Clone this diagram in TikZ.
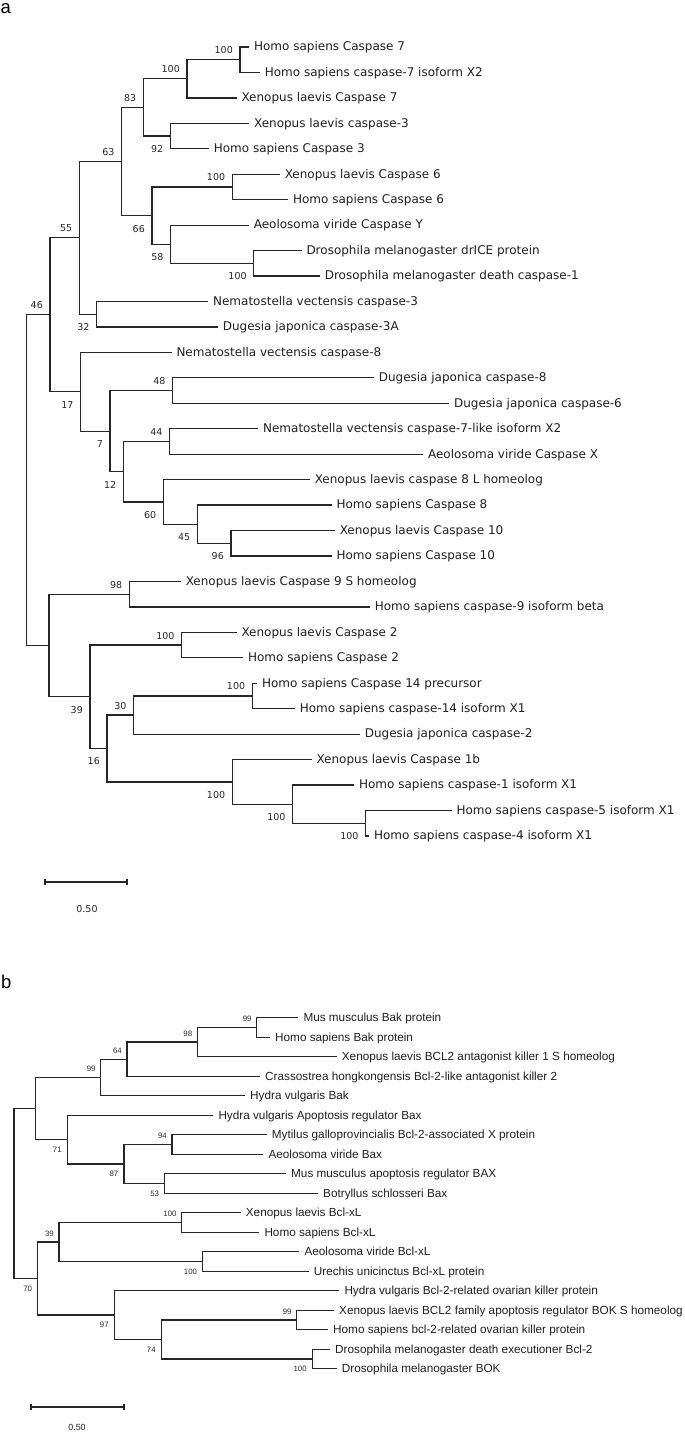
\documentclass[tikz,border=0pt]{standalone}
\usepackage{fontspec}
\newfontfamily\dvs{DejaVu Sans}
\newfontfamily\lis{Liberation Sans}
\begin{document}
\begin{tikzpicture}[x=1pt,y=-1pt,
  br/.style={draw=black!85,line width=1.25pt},
  la/.style={anchor=base west,inner sep=0pt,xshift=4.6pt,yshift=-3.8pt,font=\dvs\fontsize{12}{14}\selectfont,text=black!88},
  lb/.style={anchor=base west,inner sep=0pt,xshift=5pt,yshift=-4.2pt,font=\lis\fontsize{11.75}{14}\selectfont,text=black!88},
  ua/.style={anchor=east,inner sep=0pt,xshift=-7pt,yshift=9.5pt,font=\dvs\fontsize{9.5}{11}\selectfont,text=black!85},
  da/.style={anchor=east,inner sep=0pt,xshift=-7pt,yshift=-13pt,font=\dvs\fontsize{9.5}{11}\selectfont,text=black!85},
  ub/.style={anchor=east,inner sep=0pt,xshift=-5pt,yshift=8.5pt,font=\lis\fontsize{7.8}{9}\selectfont,text=black!85},
  db/.style={anchor=east,inner sep=0pt,xshift=-5.5pt,yshift=-10pt,font=\lis\fontsize{7.8}{9}\selectfont,text=black!85},
  panel/.style={anchor=base west,inner sep=0pt,font=\lis\fontsize{18.5}{20}\selectfont}]
\useasboundingbox (0,0) rectangle (685,1432);

%% ================= PANEL A =================
\node[panel] (pa) at (0.5,13.5) {a};
% leaf tips
\coordinate (a1) at (249.3,47);
\coordinate (a2) at (260,72.45);
\coordinate (a3) at (236.7,97.9);
\coordinate (a4) at (249.3,123.35);
\coordinate (a5) at (209,148.8);
\coordinate (a6) at (280,174.25);
\coordinate (a7) at (288.3,199.7);
\coordinate (a8) at (249,225.15);
\coordinate (a9) at (301.7,250.6);
\coordinate (a10) at (320,276.05);
\coordinate (a11) at (208.3,301.5);
\coordinate (a12) at (218,326.95);
\coordinate (a13) at (171.7,352.4);
\coordinate (a14) at (374,377.85);
\coordinate (a15) at (449.3,403.3);
\coordinate (a16) at (258.3,428.75);
\coordinate (a17) at (423.3,454.2);
\coordinate (a18) at (310,479.65);
\coordinate (a19) at (331.7,505.1);
\coordinate (a20) at (335,530.55);
\coordinate (a21) at (331.7,556);
\coordinate (a22) at (181,581.45);
\coordinate (a23) at (370,606.9);
\coordinate (a24) at (236.7,632.35);
\coordinate (a25) at (243.3,657.8);
\coordinate (a26) at (257.3,683.25);
\coordinate (a27) at (295,708.7);
\coordinate (a28) at (360,734.15);
\coordinate (a29) at (311.7,759.6);
\coordinate (a30) at (354.3,785.05);
\coordinate (a31) at (451.7,810.5);
\coordinate (a32) at (369.3,835.95);
% internal nodes
\coordinate (n7a) at (240,59.73);
\coordinate (n7b) at (187,78.81);
\coordinate (n92) at (170.3,136.08);
\coordinate (n83) at (143.3,107.44);
\coordinate (n6) at (232.3,186.98);
\coordinate (ndr) at (253.8,263.33);
\coordinate (n58) at (170.7,244.24);
\coordinate (n66) at (152,215.61);
\coordinate (n63) at (121.7,161.52);
\coordinate (n32) at (96.7,314.23);
\coordinate (n55) at (79.3,237.87);
\coordinate (n48) at (172.7,390.58);
\coordinate (n44) at (169.7,441.48);
\coordinate (n96) at (231,543.28);
\coordinate (n45) at (197.3,524.19);
\coordinate (n60) at (163.3,501.92);
\coordinate (n12) at (123.3,471.7);
\coordinate (n7) at (110,431.14);
\coordinate (n17) at (80.7,391.77);
\coordinate (n46) at (50,314.82);
\coordinate (n98) at (129.3,594.18);
\coordinate (nc2) at (181.7,645.08);
\coordinate (nc14) at (252.3,695.98);
\coordinate (n30) at (133.7,715.06);
\coordinate (nc45) at (365.7,823.23);
\coordinate (nc1) at (292.7,804.14);
\coordinate (nc1b) at (232.3,781.87);
\coordinate (n16) at (107,748.47);
\coordinate (n39) at (90,696.78);
\coordinate (nu) at (49,645.48);
\coordinate (ra) at (26.7,480.15);
% branches
\foreach \p/\c in {n7a/a1,n7a/a2,n7b/n7a,n7b/a3,n92/a4,n92/a5,n83/n7b,n83/n92,
  n6/a6,n6/a7,ndr/a9,ndr/a10,n58/a8,n58/ndr,n66/n6,n66/n58,n63/n83,n63/n66,
  n32/a11,n32/a12,n55/n63,n55/n32,n48/a14,n48/a15,n44/a16,n44/a17,
  n96/a20,n96/a21,n45/a19,n45/n96,n60/a18,n60/n45,n12/n44,n12/n60,
  n7/n48,n7/n12,n17/a13,n17/n7,n46/n55,n46/n17,
  n98/a22,n98/a23,nc2/a24,nc2/a25,nc14/a26,nc14/a27,n30/nc14,n30/a28,
  nc45/a31,nc45/a32,nc1/a30,nc1/nc45,nc1b/a29,nc1b/nc1,n16/n30,n16/nc1b,
  n39/nc2,n39/n16,nu/n98,nu/n39,ra/n46,ra/nu}
  \draw[br] (\p) |- (\c);
% leaf labels
\node[la] (ta1) at (a1) {Homo sapiens Caspase 7};
\node[la] (ta2) at (a2) {Homo sapiens caspase-7 isoform X2};
\node[la] (ta3) at (a3) {Xenopus laevis Caspase 7};
\node[la] (ta4) at (a4) {Xenopus laevis caspase-3};
\node[la] (ta5) at (a5) {Homo sapiens Caspase 3};
\node[la] (ta6) at (a6) {Xenopus laevis Caspase 6};
\node[la] (ta7) at (a7) {Homo sapiens Caspase 6};
\node[la] (ta8) at (a8) {Aeolosoma viride Caspase Y};
\node[la] (ta9) at (a9) {Drosophila melanogaster drICE protein};
\node[la] (ta10) at (a10) {Drosophila melanogaster death caspase-1};
\node[la] (ta11) at (a11) {Nematostella vectensis caspase-3};
\node[la] (ta12) at (a12) {Dugesia japonica caspase-3A};
\node[la] (ta13) at (a13) {Nematostella vectensis caspase-8};
\node[la] (ta14) at (a14) {Dugesia japonica caspase-8};
\node[la] (ta15) at (a15) {Dugesia japonica caspase-6};
\node[la] (ta16) at (a16) {Nematostella vectensis caspase-7-like isoform X2};
\node[la] (ta17) at (a17) {Aeolosoma viride Caspase X};
\node[la] (ta18) at (a18) {Xenopus laevis caspase 8 L homeolog};
\node[la] (ta19) at (a19) {Homo sapiens Caspase 8};
\node[la] (ta20) at (a20) {Xenopus laevis Caspase 10};
\node[la] (ta21) at (a21) {Homo sapiens Caspase 10};
\node[la] (ta22) at (a22) {Xenopus laevis Caspase 9 S homeolog};
\node[la] (ta23) at (a23) {Homo sapiens caspase-9 isoform beta};
\node[la] (ta24) at (a24) {Xenopus laevis Caspase 2};
\node[la] (ta25) at (a25) {Homo sapiens Caspase 2};
\node[la] (ta26) at (a26) {Homo sapiens Caspase 14 precursor};
\node[la] (ta27) at (a27) {Homo sapiens caspase-14 isoform X1};
\node[la] (ta28) at (a28) {Dugesia japonica caspase-2};
\node[la] (ta29) at (a29) {Xenopus laevis Caspase 1b};
\node[la] (ta30) at (a30) {Homo sapiens caspase-1 isoform X1};
\node[la] (ta31) at (a31) {Homo sapiens caspase-5 isoform X1};
\node[la] (ta32) at (a32) {Homo sapiens caspase-4 isoform X1};
% bootstrap values
\node[ua] (ba1) at (n7a) {100};
\node[ua] (ba2) at (n7b) {100};
\node[da] (ba3) at (n92) {92};
\node[ua] (ba4) at (n83) {83};
\node[ua] (ba5) at (n63) {63};
\node[ua] (ba6) at (n6) {100};
\node[da] (ba7) at (n66) {66};
\node[da] (ba8) at (n58) {58};
\node[da] (ba9) at (ndr) {100};
\node[ua] (ba10) at (n55) {55};
\node[da] (ba11) at (n32) {32};
\node[ua] (ba12) at (n46) {46};
\node[da] (ba13) at (n17) {17};
\node[ua] (ba14) at (n48) {48};
\node[da] (ba15) at (n7) {7};
\node[ua] (ba16) at (n44) {44};
\node[da] (ba17) at (n12) {12};
\node[da] (ba18) at (n60) {60};
\node[da] (ba19) at (n45) {45};
\node[da] (ba20) at (n96) {96};
\node[ua] (ba21) at (n98) {98};
\node[ua] (ba22) at (nc2) {100};
\node[da] (ba23) at (n39) {39};
\node[ua] (ba24) at (n30) {30};
\node[ua] (ba25) at (nc14) {100};
\node[da] (ba26) at (n16) {16};
\node[da] (ba27) at (nc1b) {100};
\node[da] (ba28) at (nc1) {100};
\node[da] (ba29) at (nc45) {100};
% scale bar
\coordinate (sa1) at (45,882);
\coordinate (sa2) at (127,882);
\draw[br] (sa1) -- (sa2);
\draw[br] ([yshift=3.3pt]sa1) -- ([yshift=-3.3pt]sa1);
\draw[br] ([yshift=3.3pt]sa2) -- ([yshift=-3.3pt]sa2);
\node[font=\dvs\fontsize{9.5}{11}\selectfont,inner sep=0pt,text=black!85] (sla) at (87,909) {0.50};

%% ================= PANEL B =================
\node[panel] (pb) at (1,988) {b};
\coordinate (b1) at (298.3,1017.7);
\coordinate (b2) at (270,1037.2);
\coordinate (b3) at (336.7,1056.7);
\coordinate (b4) at (260,1076.2);
\coordinate (b5) at (245,1095.7);
\coordinate (b6) at (213.3,1115.2);
\coordinate (b7) at (266.7,1134.7);
\coordinate (b8) at (263.3,1154.2);
\coordinate (b9) at (286,1173.7);
\coordinate (b10) at (318,1193.2);
\coordinate (b11) at (240.7,1212.7);
\coordinate (b12) at (259.3,1232.2);
\coordinate (b13) at (299.3,1251.7);
\coordinate (b14) at (308.7,1271.2);
\coordinate (b15) at (339.3,1290.7);
\coordinate (b16) at (334,1310.2);
\coordinate (b17) at (328,1329.7);
\coordinate (b18) at (330,1349.2);
\coordinate (b19) at (336.7,1368.7);
\coordinate (m99a) at (256.7,1027.45);
\coordinate (m98) at (197.3,1042.08);
\coordinate (m64) at (127,1059.14);
\coordinate (m99b) at (100.7,1077.42);
\coordinate (m94) at (172,1144.45);
\coordinate (m53) at (164.7,1183.45);
\coordinate (m87) at (124,1163.95);
\coordinate (m71) at (67.3,1139.58);
\coordinate (mu) at (35.3,1108.5);
\coordinate (mx) at (181.7,1222.45);
\coordinate (mur) at (202.7,1261.45);
\coordinate (m39) at (59,1241.95);
\coordinate (m99c) at (296.7,1319.95);
\coordinate (md) at (312.3,1358.95);
\coordinate (m74) at (161.3,1339.45);
\coordinate (m97) at (114.3,1315.08);
\coordinate (m70) at (37.7,1278.52);
\coordinate (rb) at (14,1193.51);
\foreach \p/\c in {m99a/b1,m99a/b2,m98/m99a,m98/b3,m64/m98,m64/b4,m99b/m64,m99b/b5,
  m94/b7,m94/b8,m53/b9,m53/b10,m87/m94,m87/m53,m71/b6,m71/m87,mu/m99b,mu/m71,
  mx/b11,mx/b12,mur/b13,mur/b14,m39/mx,m39/mur,m99c/b16,m99c/b17,md/b18,md/b19,
  m74/m99c,m74/md,m97/b15,m97/m74,m70/m39,m70/m97,rb/mu,rb/m70}
  \draw[br] (\p) |- (\c);
\node[lb] (tb1) at (b1) {Mus musculus Bak protein};
\node[lb] (tb2) at (b2) {Homo sapiens Bak protein};
\node[lb] (tb3) at (b3) {Xenopus laevis BCL2 antagonist killer 1 S homeolog};
\node[lb] (tb4) at (b4) {Crassostrea hongkongensis Bcl-2-like antagonist killer 2};
\node[lb] (tb5) at (b5) {Hydra vulgaris Bak};
\node[lb] (tb6) at (b6) {Hydra vulgaris Apoptosis regulator Bax};
\node[lb] (tb7) at (b7) {Mytilus galloprovincialis Bcl-2-associated X protein};
\node[lb] (tb8) at (b8) {Aeolosoma viride Bax};
\node[lb] (tb9) at (b9) {Mus musculus apoptosis regulator BAX};
\node[lb] (tb10) at (b10) {Botryllus schlosseri Bax};
\node[lb] (tb11) at (b11) {Xenopus laevis Bcl-xL};
\node[lb] (tb12) at (b12) {Homo sapiens Bcl-xL};
\node[lb] (tb13) at (b13) {Aeolosoma viride Bcl-xL};
\node[lb] (tb14) at (b14) {Urechis unicinctus Bcl-xL protein};
\node[lb] (tb15) at (b15) {Hydra vulgaris Bcl-2-related ovarian killer protein};
\node[lb] (tb16) at (b16) {Xenopus laevis BCL2 family apoptosis regulator BOK S homeolog};
\node[lb] (tb17) at (b17) {Homo sapiens bcl-2-related ovarian killer protein};
\node[lb] (tb18) at (b18) {Drosophila melanogaster death executioner Bcl-2};
\node[lb] (tb19) at (b19) {Drosophila melanogaster BOK};
\node[ub] (bb1) at (m99a) {99};
\node[ub] (bb2) at (m98) {98};
\node[ub] (bb3) at (m64) {64};
\node[ub] (bb4) at (m99b) {99};
\node[ub] (bb5) at (m94) {94};
\node[db] (bb6) at (m53) {53};
\node[db] (bb7) at (m87) {87};
\node[db] (bb8) at (m71) {71};
\node[ub] (bb9) at (mx) {100};
\node[db] (bb10) at (mur) {100};
\node[ub] (bb11) at (m39) {39};
\node[ub] (bb12) at (m99c) {99};
\node[db] (bb13) at (md) {100};
\node[db] (bb14) at (m74) {74};
\node[db] (bb15) at (m97) {97};
\node[db] (bb16) at (m70) {70};
\coordinate (sb1) at (31,1407);
\coordinate (sb2) at (124,1407);
\draw[br] (sb1) -- (sb2);
\draw[br] ([yshift=3pt]sb1) -- ([yshift=-3pt]sb1);
\draw[br] ([yshift=3pt]sb2) -- ([yshift=-3pt]sb2);
\node[font=\lis\fontsize{8.9}{10}\selectfont,inner sep=0pt,text=black!85] (slb) at (77,1427) {0.50};
\end{tikzpicture}
\end{document}
